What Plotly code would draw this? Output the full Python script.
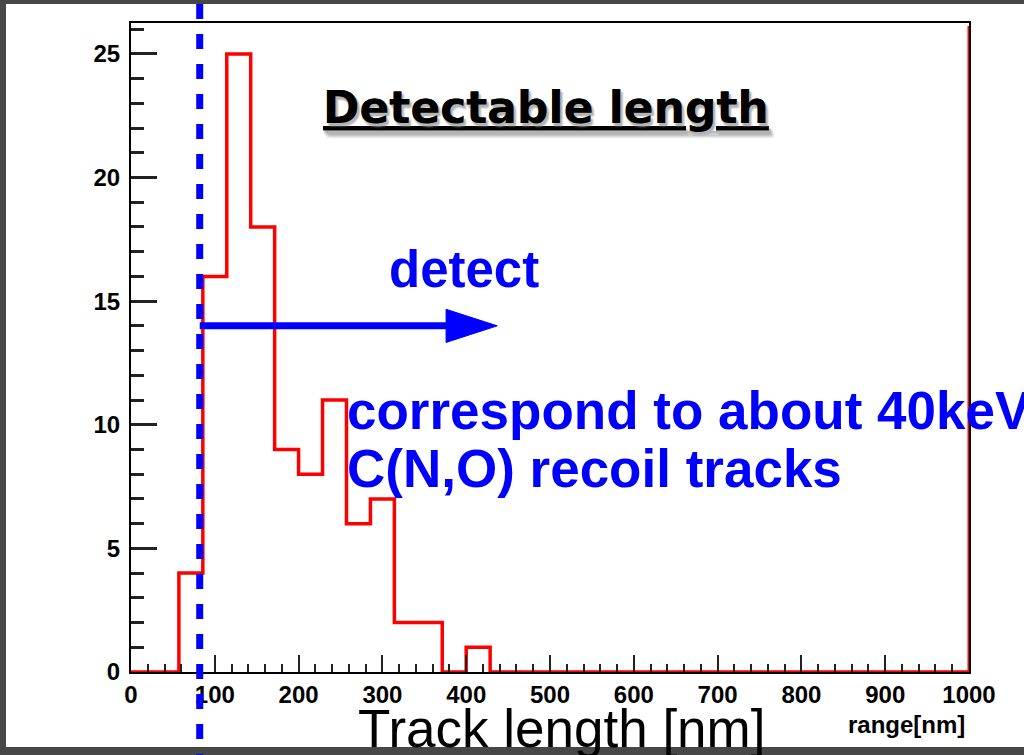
import numpy as np
import plotly.graph_objects as go

# ---- data ----
X_MIN, X_MAX = 0, 1000
N_BINS = 35
BIN_EDGES = np.linspace(X_MIN, X_MAX, N_BINS + 1)
COUNTS = [0, 0, 4, 16, 25, 18, 9, 8, 11, 6, 7, 2, 2, 0, 1,
          0, 0, 0, 0, 0, 0, 0, 0, 0, 0, 0, 0, 0, 0, 0, 0, 0, 0, 0, 0]
Y_MAX = 1.05 * max(COUNTS)
X_TICKS = list(range(0, 1001, 100))
Y_TICKS = [0, 5, 10, 15, 20, 25]

THRESHOLD = 82      # detectable-length cut (dashed line)
ARROW_Y = 14        # arrow level
ARROW_HEAD_BASE = 376
ARROW_TIP = 437
ARROW_HALF_H = 0.67

TITLE_TEXT = "Detectable length"
DETECT_TEXT = "detect"
NOTE_LINE1 = "correspond to about 40keV"
NOTE_LINE2 = "C(N,O) recoil tracks"
XLABEL_BIG = "Track length [nm]"
XLABEL_SMALL = "range[nm]"

# ---- layout geometry (pixels) ----
W, H = 1024, 755
PL, PR, PT, PB = 131, 969, 23, 672


def pxx(px):
    return (px - PL) / (PR - PL)


def pxy(py):
    return (PB - py) / (PB - PT)


BLUE = "#0000FF"
RED = "#FF0000"
GRAY = "#474747"

xs = list(BIN_EDGES)
ys = list(COUNTS) + [COUNTS[-1]]

fig = go.Figure()
fig.add_trace(go.Scatter(
    x=xs, y=ys, mode="lines", line=dict(color=RED, width=3.5, shape="hv"),
    hoverinfo="skip", showlegend=False))

shapes = []
# gray frame bands of the slide
shapes.append(dict(type="rect", xref="paper", yref="paper", x0=pxx(0), x1=pxx(W), y0=pxy(0), y1=pxy(4),
                   fillcolor=GRAY, line=dict(width=0), layer="above"))
shapes.append(dict(type="rect", xref="paper", yref="paper", x0=pxx(0), x1=pxx(6), y0=pxy(0), y1=pxy(H),
                   fillcolor=GRAY, line=dict(width=0), layer="above"))
shapes.append(dict(type="rect", xref="paper", yref="paper", x0=pxx(0), x1=pxx(W), y0=pxy(747), y1=pxy(H),
                   fillcolor=GRAY, line=dict(width=0), layer="above"))
# red edge of histogram at right
shapes.append(dict(type="line", xref="x", yref="paper", x0=X_MAX, x1=X_MAX, y0=0, y1=pxy(26),
                   line=dict(color=RED, width=3), layer="above"))
# dashed threshold line
shapes.append(dict(type="line", xref="x", yref="paper", x0=THRESHOLD, x1=THRESHOLD,
                   y0=pxy(4), y1=pxy(H),
                   line=dict(color=BLUE, width=7, dash="15px,15px"), layer="above"))
# arrow
shapes.append(dict(type="line", xref="x", yref="y", x0=THRESHOLD, x1=ARROW_HEAD_BASE + 2,
                   y0=ARROW_Y, y1=ARROW_Y, line=dict(color=BLUE, width=7), layer="above"))
shapes.append(dict(type="path", xref="x", yref="y",
                   path=f"M {ARROW_HEAD_BASE},{ARROW_Y - ARROW_HALF_H} L {ARROW_TIP},{ARROW_Y} "
                        f"L {ARROW_HEAD_BASE},{ARROW_Y + ARROW_HALF_H} Z",
                   fillcolor=BLUE, line=dict(color=BLUE, width=1), layer="above"))


def ann(text, x_px, baseline_px, size, family, color, weight="normal", asc=0.905, desc=0.212, **font_extra):
    center = baseline_px - (asc - desc) / 2 * size
    return dict(text=text, xref="paper", yref="paper", x=pxx(x_px), y=pxy(center),
                xanchor="left", yanchor="middle", showarrow=False, borderpad=0,
                font=dict(size=size, family=family, color=color, weight=weight, **font_extra))


annotations = [
    ann(f"<u>{TITLE_TEXT}</u>", 322, 123, 44, "DejaVu Sans", "black", "bold", asc=0.928, desc=0.236,
        shadow="2px 3px 2px #b4b4b4"),
    ann(DETECT_TEXT, 388, 287, 51, "Liberation Sans", BLUE, "bold"),
    ann(NOTE_LINE1, 346, 429, 53, "Liberation Sans", BLUE, "bold"),
    ann(NOTE_LINE2, 346, 487, 53, "Liberation Sans", BLUE, "bold"),
    ann(XLABEL_BIG, 357, 747, 53, "Liberation Sans", "black", "normal"),
    ann(XLABEL_SMALL, 847, 733, 24, "Liberation Sans", "black", "bold"),
]

tickfont = dict(family="Liberation Sans", size=24, color="black", weight="bold")

fig.update_layout(
    width=W, height=H,
    margin=dict(l=PL, r=W - PR, t=PT, b=H - PB, pad=0),
    paper_bgcolor="white", plot_bgcolor="white",
    shapes=shapes, annotations=annotations, showlegend=False,
    xaxis=dict(range=[X_MIN, X_MAX], tickvals=X_TICKS, ticks="inside", ticklen=17, tickwidth=2,
               tickcolor="#222222", showline=True, linecolor="black", linewidth=2, mirror=True,
               showgrid=False, zeroline=False, tickfont=tickfont, ticklabelstandoff=0,
               minor=dict(dtick=20, ticks="inside", ticklen=8, tickwidth=2, tickcolor="#222222", showgrid=False)),
    yaxis=dict(range=[0, Y_MAX], tickvals=Y_TICKS, ticks="inside", ticklen=26, tickwidth=2.5,
               tickcolor="#222222", showline=True, linecolor="black", linewidth=2, mirror=True,
               showgrid=False, zeroline=False, tickfont=tickfont, ticklabelstandoff=4,
               minor=dict(dtick=1, ticks="inside", ticklen=13, tickwidth=2.5, tickcolor="#222222", showgrid=False)),
)

fig.write_html("out.html")
